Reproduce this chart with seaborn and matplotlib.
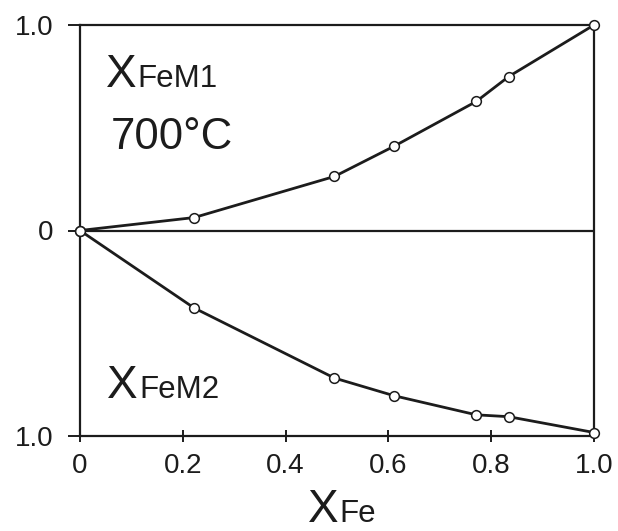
import matplotlib
matplotlib.use("Agg")
import matplotlib.pyplot as plt
import seaborn as sns
import numpy as np
import pandas as pd

# Data
x_fe = [0.0, 0.222, 0.495, 0.611, 0.771, 0.834, 1.0]
x_fe_m1 = [0.0, 0.063, 0.263, 0.41, 0.628, 0.749, 1.0]
x_fe_m2 = [0.0, 0.377, 0.718, 0.804, 0.897, 0.906, 0.983]
x_ticks = [0, 0.2, 0.4, 0.6, 0.8, 1.0]
x_tick_labels = ["0", "0.2", "0.4", "0.6", "0.8", "1.0"]
y_ticks = [1.0, 0.0, -1.0]
y_tick_labels = ["1.0", "0", "1.0"]

sns.set_style("ticks")
plt.rcParams["font.family"] = ["Liberation Sans", "DejaVu Sans"]

ink = "#1c1c1c"
fig = plt.figure(figsize=(6.18, 5.31), dpi=100)
ax = fig.add_axes([80 / 618, 1 - 436 / 531, 514 / 618, 411 / 531])

df_m1 = pd.DataFrame({"x": x_fe, "y": x_fe_m1})
df_m2 = pd.DataFrame({"x": x_fe, "y": [-v for v in x_fe_m2]})

line_kw = dict(color=ink, linewidth=2.0, marker="o", markersize=7,
               markerfacecolor="white", markeredgecolor=ink, markeredgewidth=1.1,
               clip_on=False, zorder=3)
sns.lineplot(data=df_m1, x="x", y="y", ax=ax, **line_kw)
sns.lineplot(data=df_m2, x="x", y="y", ax=ax, **line_kw)

ax.axhline(0, color=ink, linewidth=1.6, zorder=2)

ax.set_xlim(0, 1)
ax.set_ylim(-1, 1)
ax.set_xticks(x_ticks)
ax.set_xticklabels(x_tick_labels)
ax.set_yticks(y_ticks)
ax.set_yticklabels(y_tick_labels)
ax.set_xlabel("")
ax.set_ylabel("")

for s in ax.spines.values():
    s.set_color(ink)
    s.set_linewidth(1.6)

ax.tick_params(axis="y", direction="out", length=9, width=1.4, pad=10,
               labelsize=20, colors=ink)
ax.tick_params(axis="x", direction="inout", length=9, width=1.4, pad=8,
               labelsize=20, colors=ink)

def label(x, y, big, small, bigsize=33, smallsize=22.5, transform=None):
    tr = ax.transData if transform is None else transform
    t = ax.text(x, y, big, fontsize=bigsize, va="baseline", ha="left",
                color=ink, transform=tr)
    ax.annotate(small, xy=(1, y), xycoords=(t, tr), xytext=(0.8, 0),
                textcoords="offset points", va="baseline", ha="left",
                fontsize=smallsize, color=ink)

label(0.05, 0.698, "X", "FeM1")
ax.text(0.06, 0.399, "700°C", fontsize=31.5, va="baseline", ha="left", color=ink)
label(0.053, -0.817, "X", "FeM2")
label(0.443, -0.209, "X", "Fe", transform=ax.transAxes)

fig.savefig("out.png", dpi=100)
